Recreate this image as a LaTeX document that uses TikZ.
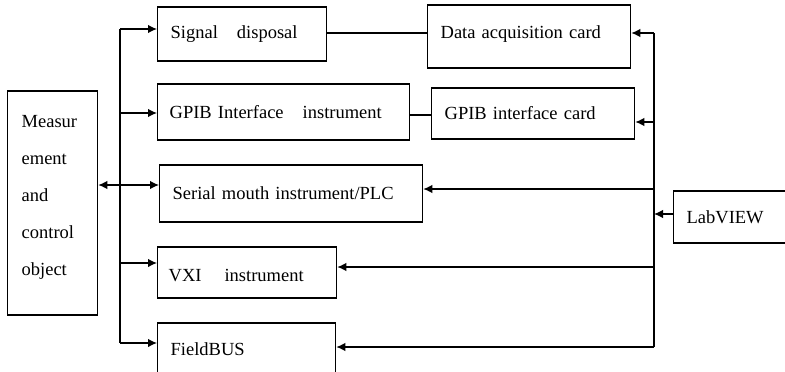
\documentclass[tikz,border=0pt]{standalone}
\usepackage{fontspec}
\setmainfont{Liberation Serif}
\usetikzlibrary{arrows.meta}
\begin{document}
\begin{tikzpicture}[x=1pt,y=-1pt,
  blk/.style={draw, line width=1.3pt, anchor=west, align=left, inner ysep=0pt,
    font=\fontsize{18.5}{22}\selectfont},
  wire/.style={line width=1.3pt},
  arr/.style={wire, -{Latex[length=9pt,width=8.5pt]}},
  arrboth/.style={wire, {Latex[length=9pt,width=8.5pt]}-{Latex[length=9pt,width=8.5pt]}}]
\useasboundingbox (0,0) rectangle (785,372);

% left column: measured object
\node[blk, minimum height=224pt, text width=62pt, inner xsep=14pt] (meas) at (7,203)
  {\raisebox{6pt}[13pt][152pt]{\parbox[t]{62pt}{\fontsize{18.5}{37}\selectfont\raggedright
   Measur\\ement\\and\\control\\object}}};

% instrument blocks
\node[blk, minimum height=54pt, text width=143pt, inner xsep=13pt] (sig) at (157,34)
  {Signal\hspace{19pt}disposal};
\node[blk, minimum height=56pt, text width=228pt, inner xsep=12pt] (gpibi) at (157,112)
  {GPIB Interface\hspace{19pt}instrument};
\node[blk, minimum height=57pt, text width=237pt, inner xsep=13pt] (serial) at (159,193.5)
  {Serial mouth instrument/PLC};
\node[blk, minimum height=51pt, text width=157pt, inner xsep=11pt] (vxi) at (157,272.5)
  {\raisebox{-4pt}[13pt][4pt]{VXI\hspace{23pt}instrument}};
\node[blk, minimum height=53pt, text width=152pt, inner xsep=13pt] (field) at (157,349.5)
  {FieldBUS};

% interface cards
\node[blk, minimum height=63pt, text width=177pt, inner xsep=13pt] (daq) at (427,36.5)
  {\raisebox{2pt}[13pt][4pt]{Data acquisition card}};
\node[blk, minimum height=51pt, text width=177pt, inner xsep=13pt] (gpibc) at (431,113.5)
  {GPIB interface card};

% software
\node[blk, minimum height=52pt, text width=96pt, inner xsep=13pt] (lab) at (673,217)
  {LabVIEW};

% left bus
\coordinate (l1) at (120,29);
\coordinate (l2) at (120,113);
\coordinate (l3) at (120,185);
\coordinate (l4) at (120,263);
\coordinate (l5) at (120,343);
\draw[wire] (l1) -- (l5);
\draw[arr] (l1) -- (l1 -| sig.west);
\draw[arr] (l2) -- (l2 -| gpibi.west);
\draw[arrboth] (meas.east |- l3) -- (l3 -| serial.west);
\draw[arr] (l4) -- (l4 -| vxi.west);
\draw[arr] (l5) -- (l5 -| field.west);

% links between instruments and cards
\coordinate (c1) at (380,33);
\coordinate (c2) at (420,115);
\draw[wire] (c1 -| sig.east) -- (c1 -| daq.west);
\draw[wire] (c2 -| gpibi.east) -- (c2 -| gpibc.west);

% right bus from LabVIEW
\coordinate (r1) at (654,33);
\coordinate (r2) at (654,122);
\coordinate (r3) at (654,189);
\coordinate (r4) at (654,267);
\coordinate (r5) at (654,347);
\coordinate (r6) at (654,214);
\draw[wire] (r1) -- (r5);
\draw[arr] (r1) -- (r1 -| daq.east);
\draw[arr] (r2) -- (r2 -| gpibc.east);
\draw[arr] (r3) -- (r3 -| serial.east);
\draw[arr] (r4) -- (r4 -| vxi.east);
\draw[arr] (r5) -- (r5 -| field.east);
\draw[arr] (r6 -| lab.west) -- (r6);
\end{tikzpicture}
\end{document}
